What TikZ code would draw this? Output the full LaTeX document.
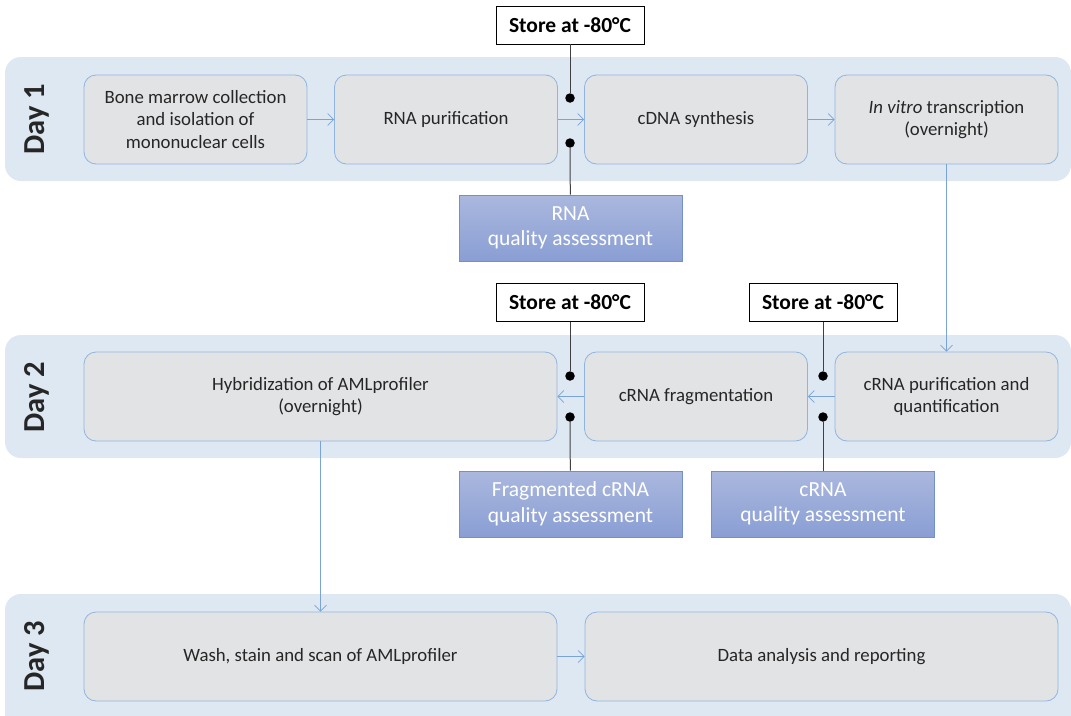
\documentclass[tikz,border=0pt]{standalone}
\usepackage{fontspec}
\setmainfont{Carlito}
\usetikzlibrary{arrows.meta,positioning}
\definecolor{daybg}{HTML}{DEE8F2}
\definecolor{boxgray}{HTML}{E2E3E5}
\definecolor{boxline}{HTML}{8FB4DF}
\definecolor{flowblue}{HTML}{7AA3D6}
\definecolor{qatop}{HTML}{AAB8DE}
\definecolor{qabottom}{HTML}{8A9ED4}
\definecolor{qaline}{HTML}{7390CC}
\definecolor{textgray}{HTML}{262626}
\definecolor{stemgray}{HTML}{404040}

\begin{document}
\begin{tikzpicture}[x=1pt, y=-1pt,
  stepbox/.style={rectangle, draw=boxline, fill=boxgray, rounded corners=12pt, line width=0.8pt, inner sep=0pt, minimum height=89pt, align=center, text=textgray, font=\fontsize{18.8}{22.5}\selectfont},
  storebox/.style={rectangle, draw=black, fill=white, line width=0.8pt, minimum width=148pt, minimum height=38pt, inner sep=0pt, font=\fontsize{21.5}{24}\selectfont\bfseries},
  qabox/.style={rectangle, draw=qaline, top color=qatop, bottom color=qabottom, line width=0.8pt, minimum width=223pt, minimum height=66pt, inner sep=0pt, align=center, text=white, font=\fontsize{21.5}{25.5}\selectfont},
  daylabel/.style={rotate=90, font=\fontsize{30.5}{32}\selectfont\bfseries, text=textgray},
  dot/.style={circle, fill=black, minimum size=9.5pt, inner sep=0pt},
  flow/.style={draw=flowblue, line width=0.7pt, -{Straight Barb[length=6pt, width=12pt]}},
  stem/.style={draw=stemgray, line width=1pt}]
  \clip (0,0) rectangle (1071,715);
  % day bands
  \fill[daybg, rounded corners=16pt] (5,57) rectangle (1071,181);
  \fill[daybg, rounded corners=16pt] (5,335) rectangle (1071,458);
  \fill[daybg, rounded corners=16pt] (5,594) rectangle (1071,740);
  \node[daylabel] (day1) at (37,119) {Day 1};
  \node[daylabel] (day2) at (37,397) {Day 2};
  \node[daylabel] (day3) at (37,656) {Day 3};

  % day 1
  \node[stepbox, minimum width=223pt] (b1) at (195.5,119.5) {Bone marrow collection\\and isolation of\\mononuclear cells};
  \node[stepbox, minimum width=223pt] (b2) at (446,119.5) {RNA purification};
  \node[stepbox, minimum width=223pt] (b3) at (696,119.5) {cDNA synthesis};
  \node[stepbox, minimum width=223pt] (b4) at (946.5,119.5) {\textit{In vitro} transcription\\(overnight)};
  % day 2
  \node[stepbox, minimum width=473pt] (b5) at (320.5,396.5) {Hybridization of AMLprofiler\\(overnight)};
  \node[stepbox, minimum width=223pt] (b6) at (696,396.5) {cRNA fragmentation};
  \node[stepbox, minimum width=223pt] (b7) at (946.5,396.5) {cRNA purification and\\quantification};
  % day 3
  \node[stepbox, minimum width=473pt] (b8) at (320.5,656.5) {Wash, stain and scan of AMLprofiler};
  \node[stepbox, minimum width=473pt] (b9) at (821.5,656.5) {Data analysis and reporting};

  % storage and quality checks
  \node[storebox] (st1) at (570,25) {Store at -80°C};
  \node[storebox] (st2) at (570,302.5) {Store at -80°C};
  \node[storebox] (st3) at (823,302.5) {Store at -80°C};
  \node[qabox] (qa1) at (570.5,228) {RNA\\quality assessment};
  \node[qabox] (qa2) at (570.5,504) {Fragmented cRNA\\quality assessment};
  \node[qabox] (qa3) at (823,504) {cRNA\\quality assessment};
  \node[dot] (d1) at (570,98) {};
  \node[dot] (d2) at (570,143) {};
  \node[dot] (d3) at (570,376) {};
  \node[dot] (d4) at (570,417) {};
  \node[dot] (d5) at (823,376) {};
  \node[dot] (d6) at (823,417) {};
  \draw[stem] (st1) -- (d1);
  \draw[stem] (qa1) -- (d2);
  \draw[stem] (st2) -- (d3);
  \draw[stem] (qa2) -- (d4);
  \draw[stem] (st3) -- (d5);
  \draw[stem] (qa3) -- (d6);

  % flow
  \draw[flow] (b1) -- (b2);
  \draw[flow] (b2) -- (b3);
  \draw[flow] (b3) -- (b4);
  \draw[flow] (b4) -- (b7);
  \draw[flow] (b7) -- (b6);
  \draw[flow] (b6) -- (b5);
  \draw[flow] (b5) -- (b8);
  \draw[flow] (b8) -- (b9);
\end{tikzpicture}
\end{document}
